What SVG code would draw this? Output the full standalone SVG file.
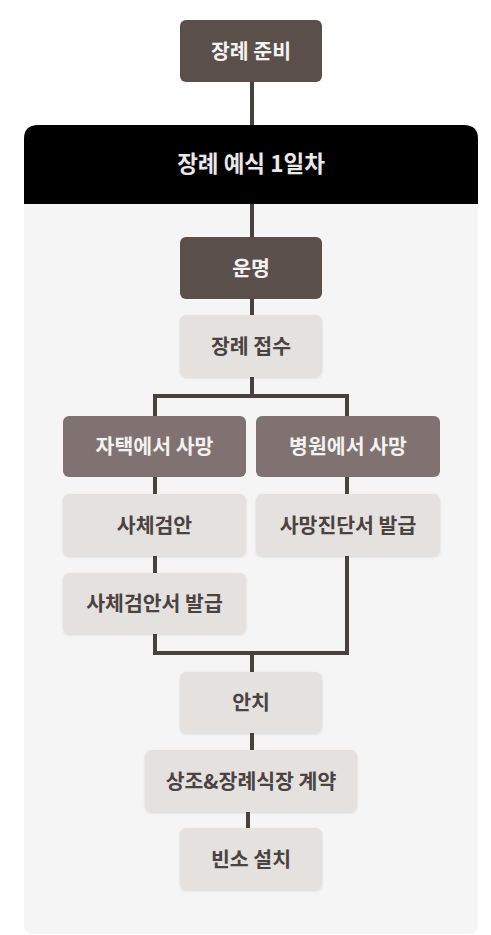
<svg xmlns="http://www.w3.org/2000/svg" width="491" height="935" viewBox="0 0 491 935">
<defs>
<style>
text{font-family:"Noto Sans CJK KR","Noto Sans",sans-serif;font-weight:700;text-anchor:middle}
.dark{fill:#5b4f4c}
.mid{fill:#7f7270}
.light{fill:#e4e1df;filter:url(#sh)}
.tw{fill:#f4f2f1;font-size:20.5px}
.td{fill:#4b4341;font-size:20.5px}
.conn{fill:none;stroke:#4a403e;stroke-width:4}
</style>
<filter id="sh" x="-10%" y="-10%" width="120%" height="130%">
<feDropShadow dx="0" dy="1" stdDeviation="1.2" flood-color="#000" flood-opacity="0.12"/>
</filter>
</defs>
<rect width="491" height="935" fill="#ffffff"/>
<g id="panel">
<path d="M24,204 H478 V925 Q478,934 469,934 H33 Q24,934 24,925 Z" fill="#f5f5f5"/>
</g>
<g id="connectors">
<path class="conn" d="M252,82 V125"/>
<path class="conn" d="M252,204 V237"/>
<path class="conn" d="M252,299 V315"/>
<path class="conn" d="M252,377 V396 M155,416 V396 H347 V416"/>
<path class="conn" d="M155,477 V494 M347,477 V494 M155,556 V573"/>
<path class="conn" d="M155,634 V653 H347 V556 M252,653 V672"/>
<path class="conn" d="M252,733 V750"/>
<path class="conn" d="M248,812 V828"/>
</g>
<g id="header">
<path d="M24,204 V139 Q24,125 38,125 H464 Q478,125 478,139 V204 Z" fill="#000000"/>
<text x="251" y="172" style="font-size:22.5px;fill:#e9e9e9">장례 예식 1일차</text>
</g>
<g id="n-prepare"><rect class="dark" x="180" y="20" width="142" height="62" rx="6"/><text class="tw" x="251" y="58.5">장례 준비</text></g>
<g id="n-unmyeong"><rect class="dark" x="180" y="237" width="142" height="62" rx="6"/><text class="tw" x="251" y="275.5">운명</text></g>
<g id="n-jeopsu"><rect class="light" x="180" y="315" width="142" height="62" rx="6"/><text class="td" x="251" y="353.5">장례 접수</text></g>
<g id="n-home"><rect class="mid" x="63" y="416" width="183" height="61" rx="6"/><text class="tw" x="154.5" y="454">자택에서 사망</text></g>
<g id="n-hospital"><rect class="mid" x="256" y="416" width="184" height="61" rx="6"/><text class="tw" x="348" y="454">병원에서 사망</text></g>
<g id="n-geoman"><rect class="light" x="63" y="494" width="183" height="62" rx="6"/><text class="td" x="154.5" y="532.5">사체검안</text></g>
<g id="n-jindan"><rect class="light" x="256" y="494" width="184" height="62" rx="6"/><text class="td" x="348" y="532.5">사망진단서 발급</text></g>
<g id="n-geomanseo"><rect class="light" x="63" y="573" width="183" height="61" rx="6"/><text class="td" x="154.5" y="611">사체검안서 발급</text></g>
<g id="n-anchi"><rect class="light" x="180" y="672" width="142" height="61" rx="6"/><text class="td" x="251" y="710">안치</text></g>
<g id="n-contract"><rect class="light" x="145" y="750" width="212" height="62" rx="6"/><text class="td" x="251" y="788.5">상조&amp;장례식장 계약</text></g>
<g id="n-binso"><rect class="light" x="180" y="828" width="142" height="62" rx="6"/><text class="td" x="251" y="866.5">빈소 설치</text></g>
</svg>
